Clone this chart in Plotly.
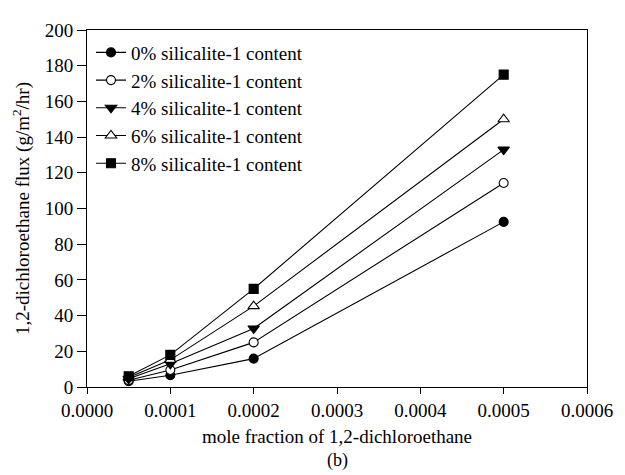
import plotly.graph_objects as go

x_vals = [0.00005, 0.0001, 0.0002, 0.0005]
flux_0 = [3.2, 6.6, 15.9, 92.5]
flux_2 = [3.8, 9.5, 25.0, 114.3]
flux_4 = [4.6, 13.0, 32.8, 133.0]
flux_6 = [5.3, 15.2, 45.3, 150.0]
flux_8 = [6.0, 18.0, 55.0, 175.0]
labels = ["0% silicalite-1 content", "2% silicalite-1 content", "4% silicalite-1 content",
          "6% silicalite-1 content", "8% silicalite-1 content"]
series = [flux_0, flux_2, flux_4, flux_6, flux_8]
symbols = ["circle", "circle", "triangle-down", "triangle-up", "square"]
fills = ["black", "white", "black", "white", "black"]
sizes = [9, 9, 10, 10, 9]

font = "Times New Roman"
fig = go.Figure()
for lab, ys, sym, fc, sz in zip(labels, series, symbols, fills, sizes):
    fig.add_trace(go.Scatter(
        x=x_vals, y=ys, name=lab, mode="lines+markers",
        line=dict(color="black", width=1.1),
        marker=dict(symbol=sym, size=sz, color=fc, line=dict(color="black", width=1.1)),
    ))

fig.update_layout(
    width=617, height=467,
    margin=dict(l=79, r=32, t=14, b=88),
    paper_bgcolor="white", plot_bgcolor="white",
    font=dict(family=font, size=19, color="black"),
    showlegend=True,
    legend=dict(x=0.008, y=0.99, xanchor="left", yanchor="top",
                bgcolor="rgba(0,0,0,0)", font=dict(size=19, family=font),
                tracegroupgap=0, itemwidth=30),
    xaxis=dict(range=[0, 0.0006], tickvals=[0, 0.0001, 0.0002, 0.0003, 0.0004, 0.0005, 0.0006],
               ticktext=["0.0000", "0.0001", "0.0002", "0.0003", "0.0004", "0.0005", "0.0006"],
               ticks="outside", ticklen=6, tickcolor="black", showgrid=False, zeroline=False,
               showline=True, linecolor="black", linewidth=1, mirror=True,
               title=dict(text="mole fraction of 1,2-dichloroethane", font=dict(size=19, family=font), standoff=9),
               tickfont=dict(size=19, family=font)),
    yaxis=dict(range=[0, 200], tickvals=[0, 20, 40, 60, 80, 100, 120, 140, 160, 180, 200],
               ticks="outside", ticklen=9, tickcolor="black", showgrid=False, zeroline=False,
               showline=True, linecolor="black", linewidth=1, mirror=True,
               title=dict(text="1,2-dichloroethane flux (g/m<sup>2</sup>/hr)", font=dict(size=19, family=font), standoff=10),
               tickfont=dict(size=19, family=font)),
    annotations=[dict(text="(b)", xref="paper", yref="paper", x=0.5, y=-0.241,
                      xanchor="center", yanchor="bottom", showarrow=False, font=dict(size=18, family=font))],
)

fig.write_html("out.html")
